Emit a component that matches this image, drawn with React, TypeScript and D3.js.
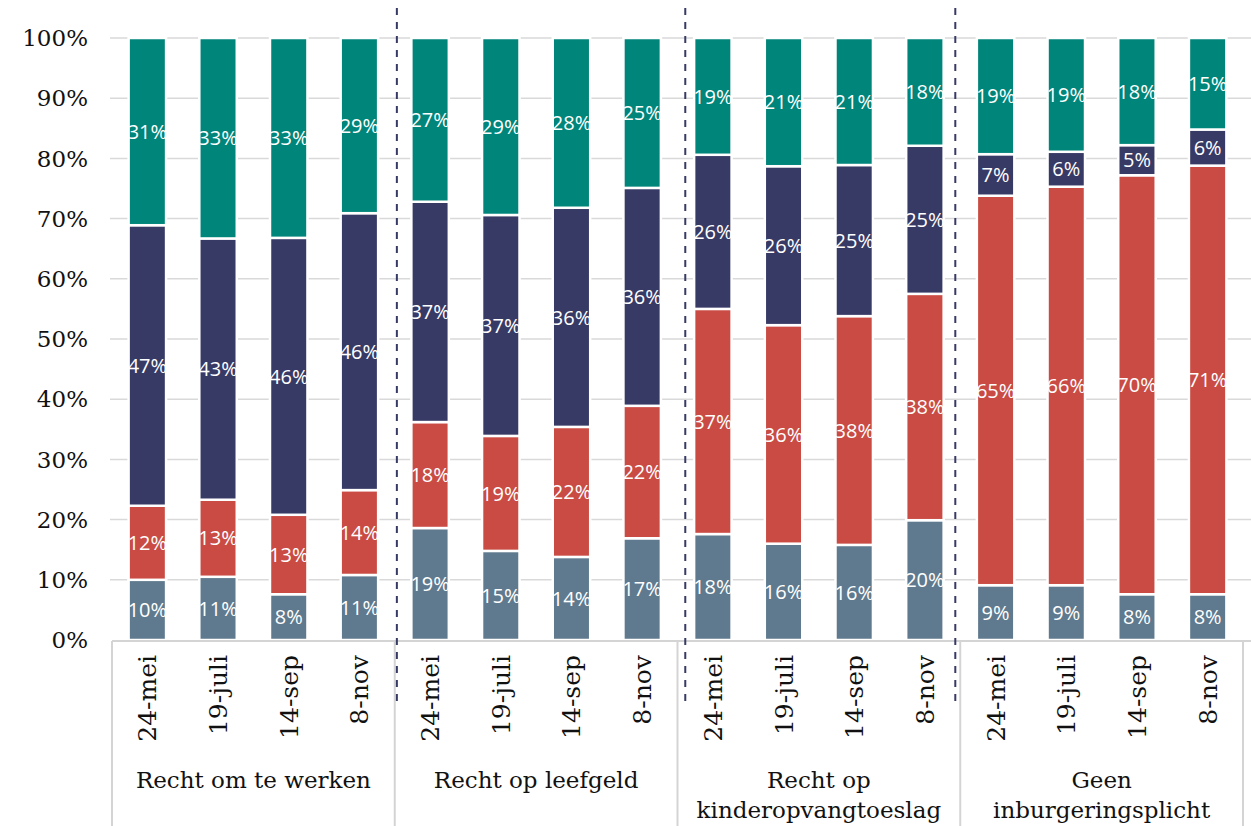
import React from "react";
import * as d3 from "d3";

const dates = ["24-mei", "19-juli", "14-sep", "8-nov"];
const groupLines = [
  ["Recht om te werken"],
  ["Recht op leefgeld"],
  ["Recht op", "kinderopvangtoeslag"],
  ["Geen", "inburgeringsplicht"],
];
const yTicks = [0, 10, 20, 30, 40, 50, 60, 70, 80, 90, 100];

// bottom to top, one value per bar (4 groups x 4 dates)
const slateVals = [10.0, 10.5, 7.6, 10.8, 18.6, 14.8, 13.8, 16.9, 17.6, 16.0, 15.8, 19.9, 9.1, 9.1, 7.6, 7.6];
const redVals = [12.3, 12.8, 13.2, 14.1, 17.6, 19.1, 21.6, 22.0, 37.4, 36.3, 38.0, 37.6, 64.7, 66.2, 69.6, 71.2];
const navyVals = [46.6, 43.4, 46.0, 46.0, 36.6, 36.7, 36.4, 36.2, 25.6, 26.4, 25.1, 24.6, 6.9, 5.8, 5.0, 6.0];
const tealVals = [31.1, 33.3, 33.2, 29.1, 27.2, 29.4, 28.2, 24.9, 19.4, 21.3, 21.1, 17.9, 19.3, 18.9, 17.8, 15.2];

const keys = ["slate", "red", "navy", "teal"];
const colors = { slate: "#5f7a8e", red: "#c94b43", navy: "#383a66", teal: "#00857a" };

// dashed dividers, in bar-slot units
const dividerAt = [4.03, 8.11, 11.93];

const W = 1251;
const H = 826;

export default function App() {
  const rows = slateVals.map((v, i) => ({
    i,
    slate: v,
    red: redVals[i],
    navy: navyVals[i],
    teal: tealVals[i],
  }));
  const series = d3.stack().keys(keys)(rows as any);

  const x = d3
    .scaleBand<number>()
    .domain(rows.map((r) => r.i))
    .range([112, 1243])
    .paddingInner(0.47)
    .paddingOuter(0.235);
  const y = d3.scaleLinear().domain([0, 100]).range([640, 38]);
  const slot = d3.scaleLinear().domain([0, 16]).range([112, 1243]);

  const serif = "'DejaVu Serif', serif";

  return (
    <svg width={W} height={H} style={{ position: "absolute", left: 0, top: 0 }}>
      <rect width={W} height={H} fill="#fff" />
      {yTicks.map((t) => (
        <g key={t}>
          {t > 0 && (
            <line x1={110} x2={W} y1={y(t)} y2={y(t)} stroke="#d9d9d9" strokeWidth={1.5} />
          )}
          <text
            x={88}
            y={y(t)}
            dy="0.36em"
            textAnchor="end"
            fontFamily={serif}
            fontSize={23}
            fill="#111"
          >
            {t}%
          </text>
        </g>
      ))}

      {series.map((s) => (
        <g key={s.key}>
          {s.map((d, i) => (
            <rect
              key={i}
              x={x(i)}
              y={y(d[1])}
              width={x.bandwidth()}
              height={y(d[0]) - y(d[1])}
              fill={colors[s.key]}
              stroke="#fff"
              strokeWidth={2.5}
            />
          ))}
          {s.map((d, i) => (
            <text
              key={"t" + i}
              x={x(i)! + x.bandwidth() / 2}
              y={(y(d[0]) + y(d[1])) / 2}
              dy="0.36em"
              textAnchor="middle"
              fontFamily="'Open Sans', sans-serif"
              fontSize={20}
              fill="#fff"
            >
              {Math.round(d[1] - d[0])}%
            </text>
          ))}
        </g>
      ))}

      {/* category axis */}
      <line x1={112} x2={W} y1={641} y2={641} stroke="#d4d4d4" strokeWidth={2} />
      {[0, 4, 8, 12, 16].map((k) => (
        <line key={k} x1={slot(k)} x2={slot(k)} y1={641} y2={H} stroke="#d4d4d4" strokeWidth={2} />
      ))}
      {rows.map((r) => {
        const cx = x(r.i)! + x.bandwidth() / 2;
        return (
          <text
            key={r.i}
            transform={`translate(${cx},655) rotate(-90)`}
            dy="0.36em"
            textAnchor="end"
            fontFamily={serif}
            fontSize={25}
            fill="#111"
          >
            {dates[r.i % 4]}
          </text>
        );
      })}
      {groupLines.map((lines, g) => (
        <text
          key={g}
          x={(slot(g * 4) + slot(g * 4 + 4)) / 2}
          y={788}
          textAnchor="middle"
          fontFamily={serif}
          fontSize={23}
          fill="#111"
        >
          {lines.map((l, j) => (
            <tspan key={j} x={(slot(g * 4) + slot(g * 4 + 4)) / 2} dy={j === 0 ? 0 : 30}>
              {l}
            </tspan>
          ))}
        </text>
      ))}

      {dividerAt.map((p) => (
        <line
          key={p}
          x1={slot(p)}
          x2={slot(p)}
          y1={8}
          y2={703}
          stroke="#383a66"
          strokeWidth={2}
          strokeDasharray="7 7"
        />
      ))}
    </svg>
  );
}
